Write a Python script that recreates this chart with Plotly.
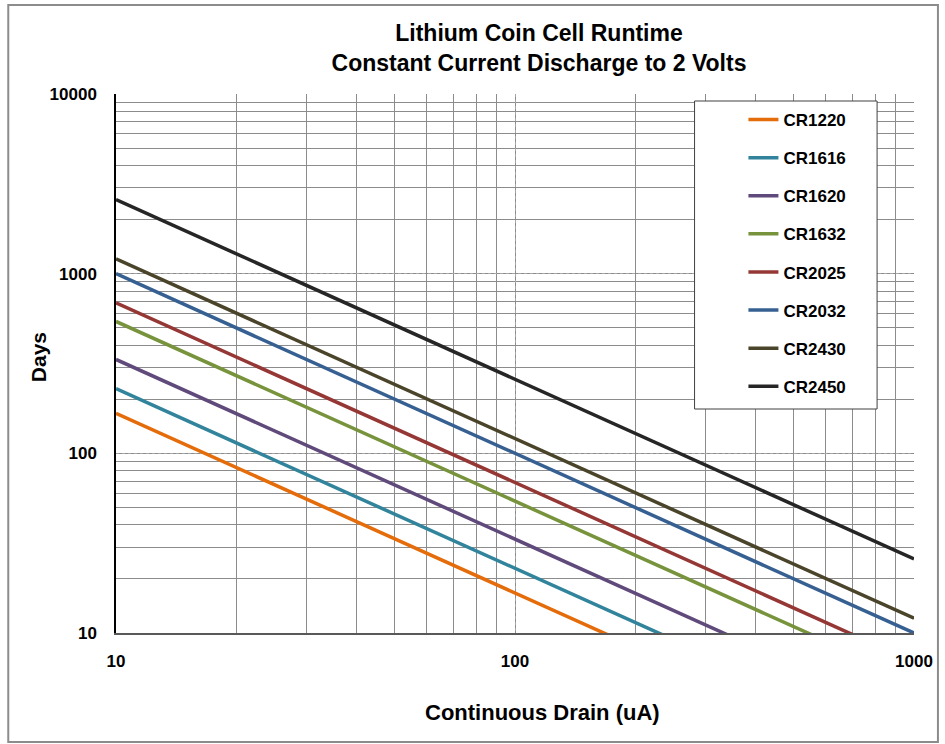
import plotly.graph_objects as go

# Data (days at 10 uA and at 1000 uA)
drain_ua = [10, 1000]
cells = ["CR1220", "CR1616", "CR1620", "CR1632", "CR2025", "CR2032", "CR2430", "CR2450"]
days_cr1220 = [167, 1.67]
days_cr1616 = [229, 2.29]
days_cr1620 = [333, 3.33]
days_cr1632 = [542, 5.42]
days_cr2025 = [688, 6.88]
days_cr2032 = [1000, 10.0]
days_cr2430 = [1208, 12.08]
days_cr2450 = [2583, 25.83]
series_days = [days_cr1220, days_cr1616, days_cr1620, days_cr1632,
               days_cr2025, days_cr2032, days_cr2430, days_cr2450]
colors = ["#E46C0A", "#31849B", "#604A7B", "#77933C",
          "#953735", "#376092", "#4A452A", "#262626"]

x_tick_vals = [10, 100, 1000]
x_tick_text = ["10", "100", "1000"]
y_tick_vals = [10, 100, 1000, 10000]
y_tick_text = ["10", "100", "1000", "10000"]

FONT = "Liberation Sans, Arial, sans-serif"

fig = go.Figure()
for name, ys, c in zip(cells, series_days, colors):
    fig.add_trace(go.Scatter(
        x=drain_ua, y=ys, mode="lines", name=name,
        line=dict(color=c, width=3.5),
        legendgroup=name,
    ))

L, R, T, B = 116, 29, 94, 111
W, H = 945, 744
pw, ph = W - L - R, H - T - B

def px_x(p):
    return (p - L) / pw

def px_y(p):
    return (H - B - p) / ph

fig.update_layout(
    width=W, height=H,
    margin=dict(l=L, r=R, t=T, b=B, pad=0),
    paper_bgcolor="white", plot_bgcolor="white",
    font=dict(family=FONT, color="black"),
    title=dict(
        text="<b>Lithium Coin Cell Runtime</b><br><b>Constant Current Discharge to 2 Volts</b>",
        xref="container", x=539 / W, xanchor="center",
        yref="container", y=1 - 41 / H, yanchor="middle",
        font=dict(size=23, family=FONT, color="black"),
    ),
    showlegend=True,
    legend=dict(
        x=px_x(745), y=px_y(102), xanchor="left", yanchor="top",
        bgcolor="rgba(0,0,0,0)", borderwidth=0,
        font=dict(size=17, family=FONT, color="black", weight="bold"),
        traceorder="grouped", tracegroupgap=13,
    ),
    xaxis=dict(
        type="log", range=[1, 3],
        showline=True, linecolor="#595959", linewidth=2, mirror=False,
        showgrid=True, gridcolor="#a6a6a6", griddash="dot", gridwidth=1,
        tickvals=x_tick_vals, ticktext=x_tick_text, ticks="", ticklabelstandoff=12,
        tickfont=dict(size=17, family=FONT, weight="bold"),
        minor=dict(dtick="D1", showgrid=True, gridcolor="#8c8c8c", gridwidth=1,
                   griddash="solid", ticks=""),
        zeroline=False,
    ),
    yaxis=dict(
        type="log", range=[1, 4],
        showline=True, linecolor="black", linewidth=1.5, mirror=False,
        showgrid=True, gridcolor="#a6a6a6", griddash="dot", gridwidth=1,
        tickvals=y_tick_vals, ticktext=y_tick_text, ticks="", ticklabelstandoff=14,
        tickfont=dict(size=17, family=FONT, weight="bold"),
        minor=dict(dtick="D1", showgrid=True, gridcolor="#8c8c8c", gridwidth=1,
                   griddash="solid", ticks=""),
        zeroline=False,
    ),
    annotations=[
        dict(text="<b>Continuous Drain (uA)</b>", xref="paper", yref="paper",
             x=px_x(544), y=px_y(712), xanchor="center", yanchor="middle",
             showarrow=False, font=dict(size=22, family=FONT, color="black")),
        dict(text="<b>Days</b>", xref="paper", yref="paper", textangle=-90,
             x=px_x(38), y=px_y(357), xanchor="center", yanchor="middle",
             showarrow=False, font=dict(size=21, family=FONT, color="black")),
    ],
    shapes=[
        # outer chart frame
        dict(type="rect", xref="paper", yref="paper",
             x0=px_x(8), x1=px_x(940), y0=px_y(742), y1=px_y(5),
             line=dict(color="#8c8c8c", width=2), fillcolor="rgba(0,0,0,0)", layer="below"),
        # legend box
        dict(type="rect", xref="paper", yref="paper",
             x0=px_x(696), x1=px_x(879), y0=px_y(409), y1=px_y(101),
             line=dict(color="#404040", width=1), fillcolor="white", layer="above"),
    ],
)

fig.write_html(
    "out.html",
    config={"displayModeBar": False},
    post_script="document.body.style.margin='0';document.body.style.overflow='hidden';",
)
